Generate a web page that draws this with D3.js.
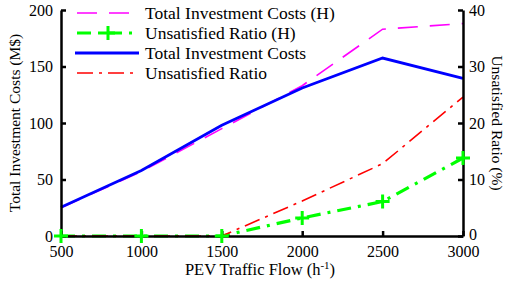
<!DOCTYPE html>
<html>
<head>
<meta charset="utf-8">
<script src="https://cdn.jsdelivr.net/npm/d3@7"></script>
<style>
  body { margin: 0; background: #fff; }
  svg text { font-family: 'Liberation Serif', 'Times New Roman', Times, 'DejaVu Serif', serif !important; }
</style>
</head>
<body>
<div id="chart"></div>
<script>
const flows = [500, 1000, 1500, 2000, 2500, 3000];
const costH = [25, 57, 95, 133, 183, 188];
const ratioH = [0, 0, 0, 3.2, 6.1, 13.8];
const cost = [25.5, 58, 98, 131, 157.5, 139.5];
const ratio = [0, 0, 0, 6.2, 12.8, 24.6];

const xTicks = [500, 1000, 1500, 2000, 2500, 3000];
const yLeftTicks = [0, 50, 100, 150, 200];
const yRightTicks = [0, 10, 20, 30, 40];

const W = 510, H = 284;
const M = { left: 61, right: 47, top: 10, bottom: 48 };

const svg = d3.select("#chart").append("svg")
    .attr("width", W).attr("height", H);

const x = d3.scaleLinear().domain([500, 3000]).range([M.left, W - M.right]);
const yL = d3.scaleLinear().domain([0, 200]).range([H - M.bottom, M.top]);
const yR = d3.scaleLinear().domain([0, 40]).range([H - M.bottom, M.top]);

const line = (xs, ys, scale) => d3.line()
    .x((d, i) => x(xs[i])).y(d => scale(d))(ys);

// series
const series = [
    { values: costH, scale: yL, color: "#ff00ff", width: 1.6, dash: "20,12", label: "Total Investment Costs (H)" },
    { values: ratioH, scale: yR, color: "#00ff00", width: 3.2, dash: "14,7,3,7", marker: true, label: "Unsatisfied Ratio (H)" },
    { values: cost, scale: yL, color: "#0000ff", width: 2.8, dash: null, label: "Total Investment Costs" },
    { values: ratio, scale: yR, color: "#ff0000", width: 1.6, dash: "16,6,3,6", label: "Unsatisfied Ratio" }
];

const plot = svg.append("g");
series.forEach(s => {
    plot.append("path")
        .attr("d", line(flows, s.values, s.scale))
        .attr("fill", "none").attr("stroke", s.color)
        .attr("stroke-width", s.width)
        .attr("stroke-dasharray", s.dash);
});

// axes
const fontSize = 16;
const fmt = d3.format("d");
const axB = svg.append("g").attr("transform", `translate(0,${H - M.bottom})`)
    .call(d3.axisBottom(x).tickValues(xTicks).tickFormat(fmt).tickSize(-5).tickPadding(10).tickSizeOuter(0));
const axL = svg.append("g").attr("transform", `translate(${M.left},0)`)
    .call(d3.axisLeft(yL).tickValues(yLeftTicks).tickFormat(fmt).tickSize(-5).tickPadding(8).tickSizeOuter(0));
const axR = svg.append("g").attr("transform", `translate(${W - M.right},0)`)
    .call(d3.axisRight(yR).tickValues(yRightTicks).tickFormat(fmt).tickSize(-5).tickPadding(6).tickSizeOuter(0));

[axB, axL, axR].forEach(a => {
    a.attr("font-family", null);
    a.select(".domain").attr("stroke", "#000").attr("stroke-width", 2.5);
    a.selectAll(".tick line").attr("stroke", "#000").attr("stroke-width", 2.5);
    a.selectAll(".tick text").attr("fill", "#000")
        .style("font-size", fontSize + "px");
});
// lift the right-hand "0" a touch so it clears the "3000" below it
axR.selectAll(".tick text").filter(d => d === 0).attr("dy", "0.2em");

// markers on top of axes
series.filter(s => s.marker).forEach(s => {
    const g = svg.append("g");
    flows.forEach((f, i) => {
        const cx = x(f), cy = s.scale(s.values[i]);
        g.append("path")
            .attr("d", `M${cx - 7},${cy}H${cx + 7}M${cx},${cy - 7}V${cy + 7}`)
            .attr("stroke", s.color).attr("stroke-width", 3);
    });
});

// axis labels
svg.append("text")
    .attr("transform", `translate(15,${(M.top + H - M.bottom) / 2}) rotate(-90)`)
    .attr("text-anchor", "middle").attr("dy", "0.35em")
    .style("font-size", "15.5px").text("Total Investment Costs (M$)");

svg.append("text")
    .attr("transform", `translate(497,${(M.top + H - M.bottom) / 2}) rotate(90)`)
    .attr("text-anchor", "middle").attr("dy", "0.35em")
    .style("font-size", "15.5px").text("Unsatisfied Ratio (%)");

const xl = svg.append("text")
    .attr("x", 260).attr("y", 275)
    .attr("text-anchor", "middle")
    .style("font-size", "16.5px");
xl.append("tspan").text("PEV Traffic Flow (h");
xl.append("tspan").attr("dy", -6).style("font-size", "11px").text("-1");
xl.append("tspan").attr("dy", 6).text(")");

// legend
const leg = svg.append("g").attr("transform", "translate(77,13)");
series.forEach((s, i) => {
    const ry = i * 20;
    leg.append("line")
        .attr("x1", s.dash ? 0 : -2).attr("x2", s.dash ? 57 : 62).attr("y1", ry).attr("y2", ry)
        .attr("stroke", s.color).attr("stroke-width", s.width)
        .attr("stroke-dasharray", s.dash);
    if (s.marker) {
        leg.append("path")
            .attr("d", `M24,${ry}H38M31,${ry - 7}V${ry + 7}`)
            .attr("stroke", s.color).attr("stroke-width", 3);
    }
    leg.append("text")
        .attr("x", 68).attr("y", ry).attr("dy", "0.35em")
        .style("font-size", "17.5px").text(s.label);
});
</script>
</body>
</html>
